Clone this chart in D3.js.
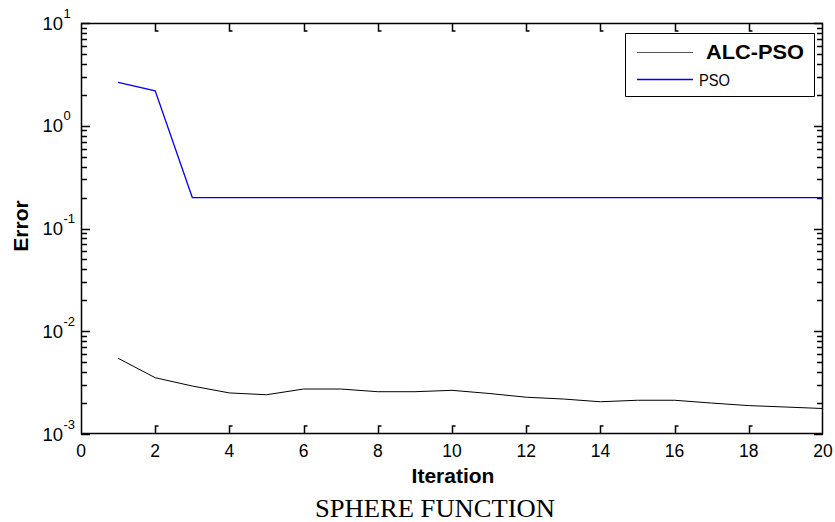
<!DOCTYPE html>
<html><head><meta charset="utf-8">
<script src="https://cdn.jsdelivr.net/npm/d3@7"></script>
<style>body{margin:0;background:#fff}svg{display:block}</style>
</head><body>
<svg id="chart" width="835" height="522"></svg>
<script>
const iterations = [1,2,3,4,5,6,7,8,9,10,11,12,13,14,15,16,17,18,19,20];
const alcPso = [0.00546,0.00353,0.00293,0.00251,0.00241,0.00274,0.00274,0.00258,0.00258,0.00266,0.00248,0.00228,0.00219,0.00206,0.00213,0.00213,0.00200,0.00189,0.00183,0.00177];
const pso = [2.65,2.19,0.2,0.2,0.2,0.2,0.2,0.2,0.2,0.2,0.2,0.2,0.2,0.2,0.2,0.2,0.2,0.2,0.2,0.2];
const xTicks = [0,2,4,6,8,10,12,14,16,18,20];
const yExponents = [1,0,-1,-2,-3];
const seriesNames = ["ALC-PSO","PSO"];

const svg = d3.select("#chart");
const L=81, R=823, T=23, B=434;
const x = d3.scaleLinear().domain([0,20]).range([L,R]);
const y = d3.scaleLog().domain([1e-3,10]).range([B,T]);
const font = "Liberation Sans, Arial, sans-serif";

const minor = [];
for (let e=-3;e<1;e++) for (let m=2;m<=9;m++) minor.push(m*Math.pow(10,e));
const majors = yExponents.map(e=>Math.pow(10,e));
const inner = xTicks.filter(t=>t>0&&t<20);

// tick marks (inward) built from the scales
let d = "";
minor.forEach(v=>{
  const yy = Math.round(y(v))+0.5;
  d += `M${L},${yy}H${L+6}M${R},${yy}H${R-6}`;
});
majors.forEach(v=>{
  const yy = Math.round(y(v))+0.5;
  d += `M${L},${yy}H${L+9}M${R},${yy}H${R-9}`;
});
inner.forEach(t=>{
  const xx = Math.round(x(t))+0.5;
  d += `M${xx},${B}V${B-8}H${xx+3}M${xx},${T}V${T+8}H${xx+3}`;
});
svg.append("path").attr("d",d).attr("fill","none").attr("stroke","#000").attr("stroke-width",1.5);

// frame
svg.append("path").attr("d",`M${L+0.5},${T+0.5}H${R-0.5}V${B-0.5}H${L+0.5}Z`)
  .attr("fill","none").attr("stroke","#000").attr("stroke-width",1.5);

// x tick labels
svg.append("g").selectAll("text").data(xTicks).join("text")
  .attr("x",d=>x(d)).attr("y",457).attr("text-anchor","middle")
  .attr("font-family",font).attr("font-size",17.5).text(d=>d);

// y tick labels
svg.append("g").selectAll("text").data(yExponents).join("text")
  .attr("x",63).attr("y",d=>y(Math.pow(10,d))+6.5).attr("text-anchor","end")
  .attr("font-family",font).attr("font-size",18.5).text("10");
svg.append("g").selectAll("text").data(yExponents).join("text")
  .attr("x",63.5).attr("y",d=>y(Math.pow(10,d))-5.5)
  .attr("font-family",font).attr("font-size",13).text(d=>d);

// lines
const line = d3.line().x((d,i)=>x(iterations[i])).y(d=>y(d));
svg.append("path").datum(alcPso).attr("d",line).attr("fill","none").attr("stroke","#000").attr("stroke-width",1);
svg.append("path").datum(pso).attr("d",line).attr("fill","none").attr("stroke","#0000ff").attr("stroke-width",1.3);

// legend
svg.append("path").attr("d","M625.5,33.5H814.5V96.5H625.5Z")
  .attr("fill","#fff").attr("stroke","#000").attr("stroke-width",1);
svg.append("path").attr("d","M637,52.5H693").attr("fill","none").attr("stroke","#555").attr("stroke-width",1);
svg.append("path").attr("d","M637,79.5H693").attr("fill","none").attr("stroke","#0000ff").attr("stroke-width",1.3);
svg.append("text").attr("x",706).attr("y",59).attr("font-family",font).attr("font-size",19.5).attr("font-weight","bold")
  .attr("textLength",98).attr("lengthAdjust","spacingAndGlyphs").text(seriesNames[0]);
svg.append("text").attr("x",699).attr("y",86).attr("font-family",font).attr("font-size",16.5)
  .attr("textLength",31).attr("lengthAdjust","spacingAndGlyphs").text(seriesNames[1]);

// axis titles
svg.append("text").attr("transform","translate(28,226) rotate(-90)").attr("text-anchor","middle")
  .attr("font-family",font).attr("font-size",21).attr("font-weight","bold").text("Error");
svg.append("text").attr("x",453).attr("y",483).attr("text-anchor","middle")
  .attr("font-family",font).attr("font-size",21).attr("font-weight","bold").text("Iteration");
svg.append("text").attr("x",315).attr("y",516.5)
  .attr("font-family","Liberation Serif, Times New Roman, serif").attr("font-size",25.5)
  .attr("textLength",240).attr("lengthAdjust","spacingAndGlyphs").text("SPHERE FUNCTION");
</script>
</body></html>
